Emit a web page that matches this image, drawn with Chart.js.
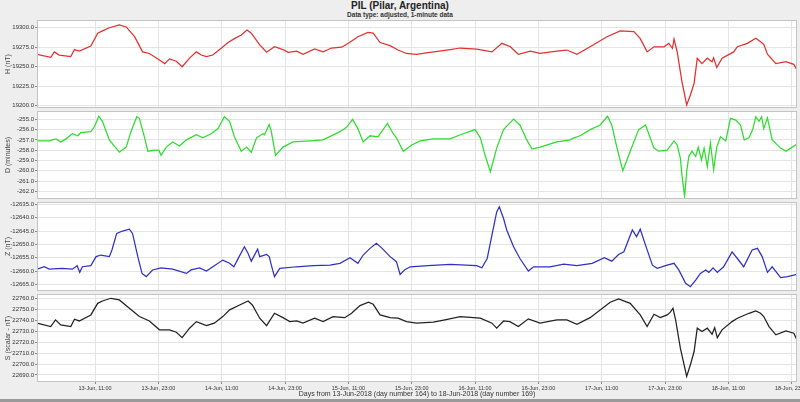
<!DOCTYPE html>
<html><head><meta charset="utf-8">
<script src="https://cdn.jsdelivr.net/npm/chart.js@4.4.1/dist/chart.umd.min.js"></script>
<style>
html,body{margin:0;padding:0;background:#eeeeee;width:800px;height:402px;overflow:hidden;font-family:"Liberation Sans",Arial,sans-serif;}
#title{position:absolute;left:0;width:800px;top:0;text-align:center;font-weight:bold;font-size:10px;line-height:11px;color:#222;}
#sub{position:absolute;left:0;width:800px;top:10px;text-align:center;font-weight:bold;font-size:6.5px;line-height:9px;color:#333;}
canvas{position:absolute;left:0;}
#foot{position:absolute;left:0;top:399px;width:800px;height:3px;background:#9a9a9a;}
</style></head>
<body>
<div id="title">PIL (Pilar, Argentina)</div>
<div id="sub">Data type: adjusted, 1-minute data</div>
<canvas id="c1" width="800" height="88" style="top:20px;width:800px;height:88px"></canvas>
<canvas id="c2" width="800" height="88" style="top:111px;width:800px;height:88px"></canvas>
<canvas id="c3" width="800" height="89" style="top:202px;width:800px;height:89px"></canvas>
<canvas id="c4" width="800" height="105" style="top:294px;width:800px;height:105px"></canvas>
<div id="foot"></div>
<script>
// ---- data (hours since 13-Jun-2018 00:00) ----
const hHours = [0,2.6,3.3,4.2,6.4,7.1,8,10.2,11.5,12.4,13.7,15.6,16.9,18.5,20,21.3,23.2,24.2,25.1,26.4,27.5,28.9,30.2,31.1,32.1,33.3,34.9,36.2,37.4,38.7,39.8,40.6,42.2,43.5,45,46.6,47.6,49.2,50.4,52.6,54.2,55.8,57.7,59,60.8,62.7,63.7,65,66.9,68.4,70,71.9,74.1,78.3,80.2,83.3,86.2,88.1,89.7,91.2,93.5,95.3,98.5,100.4,102.3,104.8,108,110.5,113.1,114.3,115.6,116.9,118.8,119.7,120.4,120.7,121.3,122.2,123.1,123.8,124.5,125.1,126,127,127.9,128.2,128.8,129.8,132,132.7,134.6,136.2,137.1,137.7,138.4,140,141.9,143.4,144];
const hValues = [19266,19262,19269,19265,19263,19272,19270,19276.5,19293,19296,19300,19303.5,19301,19288.5,19269,19267,19258.6,19254,19260,19257,19250,19261,19269,19265,19263,19265,19273.6,19281,19286,19290.6,19297,19293,19278,19268.5,19275.6,19272,19268.5,19270,19266,19272.7,19269,19274,19275,19280,19288.5,19294,19293,19281,19277,19271.4,19267,19266,19268,19272,19274,19272.7,19269,19280,19275.6,19266,19270,19267,19270,19271.4,19266,19275.6,19288.5,19296,19295,19286,19269,19275.6,19275.6,19280,19273.6,19285.5,19269,19230.8,19201,19213.7,19228.7,19260.8,19254,19261,19256.4,19261.5,19249,19261,19269,19275.6,19280,19286.4,19282,19278.7,19266,19254,19256.4,19253,19246];

const dHours = [0,2.3,3.6,4.5,5.5,6.7,7.7,8.3,10.2,10.9,11.7,12.4,13.7,15.6,16.9,17.8,18.9,19.4,20.4,21,22.3,23.1,23.5,24.5,25.7,27,28.3,30.2,31.4,33,34.3,35.5,36.5,37.4,38.7,39.7,40.6,41.6,42.8,43.1,44,44.4,45.2,46.6,48.5,51.7,54.2,57.4,58.6,59.8,60.8,61.8,63.1,64.6,66.4,67.5,68.1,69.4,71,72.6,75.1,78.3,80.2,83,84,84.9,85.9,87.1,88.4,90.3,91.5,92.8,93.8,95.3,98.5,101,101.7,102.9,104.8,106.7,108.1,108.9,109.9,111,112.4,114,115.3,116.9,117.8,119.4,120.7,121.3,121.9,122.2,122.7,123.1,123.5,124.1,124.8,125.3,125.9,126.4,127,127.6,128.2,128.8,129.5,130.5,131.4,132.4,133.3,134,134.9,135.6,136.2,136.8,137.3,137.7,138.4,139.3,140.9,141.9,142.8,144];
const dValues = [-257.1,-257.1,-256.9,-257.2,-256.9,-256.4,-256.6,-256.3,-256.2,-255.7,-254.7,-255.2,-257.0,-258.2,-257.7,-256.2,-254.75,-254.9,-256.8,-258.1,-258.0,-258.0,-258.5,-257.7,-257.2,-257.6,-257.0,-256.5,-256.8,-256.4,-255.9,-254.75,-255.2,-256.7,-258.1,-257.7,-258.2,-256.8,-256.4,-256.5,-255.5,-256.2,-258.5,-257.7,-257.2,-257.1,-257.0,-256.2,-255.8,-255.0,-255.9,-257.2,-256.6,-256.7,-255.4,-256.4,-256.8,-258.1,-257.5,-257.1,-256.9,-256.9,-256.5,-256.0,-256.8,-258.5,-260.1,-257.8,-256.0,-254.97,-255.55,-257.0,-257.9,-257.7,-257.2,-257.0,-256.8,-256.6,-256.0,-255.55,-254.7,-255.55,-257.8,-260.0,-258.1,-256.0,-255.55,-257.8,-258.1,-258.0,-257.1,-257.5,-258.8,-260.4,-262.5,-260.1,-258.6,-258.1,-258.6,-257.7,-258.95,-257.8,-259.6,-257.3,-259.9,-257.7,-256.7,-257.1,-254.9,-255.07,-255.55,-257.0,-256.8,-256.0,-254.75,-255.2,-254.75,-255.9,-254.85,-257.0,-257.8,-258.1,-257.8,-257.4];

const zHours = [0,1.4,2.3,4.8,6.7,7.6,8.1,8.6,10.2,11.2,12.1,13.7,14.2,15.1,16.2,17.5,18.1,19.1,19.9,20.7,21.9,23.5,25.7,28.3,29.2,30.8,32.1,33.6,35.2,36.5,37.3,38.3,39.3,40,40.6,41.8,42.2,43.5,44,44.4,45,46,49.2,52.3,55.5,57.4,59.3,60.8,61.8,63.1,64.3,65.3,66.9,68.1,68.8,69.7,70.7,74.1,78.3,83.3,84.3,85.3,86.2,87.1,87.6,88.4,89,90.3,91.5,93.1,94.1,97.2,99.8,102.3,105.2,107.5,108.9,110.2,111.2,112.8,113.6,114.3,115.3,116.6,117.5,119.4,120.7,121.6,122.9,123.8,124.8,125.7,126.7,127.3,128.1,128.9,130.1,131.7,132.7,133.9,135.5,136.5,137.4,138.4,139.3,140.9,142.2,144];
const zValues = [-12659.3,-12658.4,-12659.3,-12659,-12659.3,-12658,-12660.5,-12658.4,-12658,-12654.6,-12654,-12654.6,-12652.1,-12645.9,-12645,-12644.3,-12645.9,-12654.6,-12660.9,-12662.1,-12659.6,-12658.8,-12659.3,-12660.9,-12659.6,-12658.8,-12660,-12658,-12655.9,-12657.1,-12658.4,-12654.6,-12650.9,-12653.4,-12656.3,-12651.8,-12654.6,-12653.8,-12654.6,-12657.8,-12662.1,-12659,-12658.4,-12658,-12657.8,-12657.1,-12655,-12657.1,-12654,-12651.5,-12649.6,-12651.3,-12654.6,-12656.5,-12661.3,-12659.5,-12658.4,-12658,-12657.5,-12658,-12658.8,-12655.3,-12646.5,-12637.8,-12635.9,-12640.3,-12644.6,-12650.9,-12655.3,-12660,-12658.4,-12658.4,-12657.4,-12658,-12657.1,-12655,-12656.3,-12653.8,-12652.8,-12644.6,-12647.1,-12644.3,-12650.3,-12657.8,-12659,-12657.8,-12657.1,-12659.6,-12664.6,-12665.9,-12663.4,-12660.9,-12659.6,-12660.5,-12658.8,-12660.5,-12658.4,-12652.8,-12655.3,-12658.4,-12652.1,-12651.5,-12654.6,-12660.5,-12658.4,-12662.5,-12662.1,-12661.3];

const sHours = [0,2.6,3.5,4.5,6.4,7.1,8,10.2,11.5,12.4,14,15.6,17.5,19.4,21.3,23.2,25.1,26.4,27.5,28.9,30.2,32.1,33.6,35.2,36.5,38.4,40,40.8,42.2,43.5,45,46.6,47.9,49.2,50.4,52.6,54.2,56.1,58.3,59.6,61.2,62.8,63.7,65,66.9,68.4,70,71.9,75.1,77.3,80.2,84,86.2,87.1,88.4,89.6,91.2,93.1,95.3,98.5,100.4,102.3,104.8,106.7,108.6,110.2,112.4,114.3,115.6,116.9,118.1,119.4,120,120.5,121,121.9,123.1,123.8,124.5,125.1,126,127,127.9,128.4,128.9,129.8,131.7,132.7,134.9,136.2,137.1,137.7,138.7,140,141.9,143.4,144];
const sValues = [22737.3,22734.2,22740.3,22735.7,22734.2,22740.9,22739.3,22744.8,22755.4,22757.5,22760,22758.5,22750.9,22743.3,22739.3,22731.2,22731.2,22729,22724.1,22732.7,22738.7,22735,22737.3,22743.3,22749.4,22753.9,22757.5,22753.9,22741.8,22735,22746.3,22742.3,22738.7,22739.3,22737.3,22741.8,22738.7,22743.3,22742.3,22746.3,22753.3,22756.4,22754.5,22744.8,22742.3,22741.8,22738.7,22737.3,22738.2,22740.3,22743.3,22741.8,22737.3,22732.7,22739.3,22738.7,22734.2,22741.2,22737.3,22740.3,22740.3,22736.3,22742.3,22749.4,22756.4,22759.4,22755.4,22744.8,22734.2,22745.4,22742.3,22744.8,22747.3,22750.9,22740.3,22714.5,22688.7,22699.3,22711.4,22732.7,22729.6,22732.7,22727.2,22733.2,22724.1,22731.2,22738.7,22741.8,22746.3,22748.4,22746.3,22743.3,22734.2,22726.6,22730.2,22728.1,22722];

const hTicks = [19200,19225,19250,19275,19300];
const dTicks = [-262,-261,-260,-259,-258,-257,-256,-255];
const zTicks = [-12665,-12660,-12655,-12650,-12645,-12640,-12635];
const sTicks = [22690,22700,22710,22720,22730,22740,22750,22760];
const xTickHours = [11,23,35,47,59,71,83,95,107,119,131,143];
const xTickLabels = ['13-Jun, 11:00','13-Jun, 23:00','14-Jun, 11:00','14-Jun, 23:00','15-Jun, 11:00','15-Jun, 23:00','16-Jun, 11:00','16-Jun, 23:00','17-Jun, 11:00','17-Jun, 23:00','18-Jun, 11:00','18-Jun, 23:00'];

// ---- drawing ----
const FONT = '"Liberation Sans", Arial, sans-serif';
const GRID = '#e4e4e4';
const frame = {
  id: 'frame',
  beforeDraw(chart) {
    const {ctx, chartArea: a} = chart;
    ctx.save(); ctx.fillStyle = '#ffffff';
    ctx.fillRect(a.left, a.top, a.right - a.left, a.bottom - a.top);
    ctx.restore();
  },
  afterDraw(chart) {
    const {ctx, chartArea: a} = chart;
    ctx.save(); ctx.strokeStyle = '#c4c4c4'; ctx.lineWidth = 1;
    ctx.strokeRect(a.left + 0.5, a.top + 0.5, a.right - a.left - 1, a.bottom - a.top - 1);
    ctx.restore();
  }
};

function makePanel(id, hours, values, color, yMin, yMax, yTicks, yTitle, bottom) {
  const pts = hours.map((h, i) => ({x: h, y: values[i]}));
  return new Chart(document.getElementById(id), {
    type: 'line',
    data: {datasets: [{data: pts, borderColor: color, borderWidth: 1.25, pointRadius: 0, tension: 0, fill: false}]},
    options: {
      responsive: false, animation: false, devicePixelRatio: 1,
      layout: {padding: {left: 0, right: 3, top: 0, bottom: 0}},
      plugins: {legend: {display: false}, tooltip: {enabled: false}},
      scales: {
        x: {
          type: 'linear', min: 0, max: 144,
          afterBuildTicks: s => { s.ticks = xTickHours.map(v => ({value: v})); },
          afterFit: s => { s.height = bottom ? 17 : 0; s.paddingLeft = 0; s.paddingRight = 0; },
          grid: {color: GRID, drawTicks: bottom, tickLength: 2, tickColor: '#888'},
          border: {display: false},
          ticks: {display: bottom, autoSkip: false, maxRotation: 0, padding: 1, color: '#333',
                  font: {family: FONT, size: 5.5},
                  callback: (v, i) => xTickLabels[i]},
          title: {display: bottom, text: 'Days from 13-Jun-2018 (day number 164) to 18-Jun-2018 (day number 169)',
                  color: '#333', font: {family: FONT, size: 7}, padding: {top: 0, bottom: 1}}
        },
        y: {
          min: yMin, max: yMax,
          afterBuildTicks: s => { s.ticks = yTicks.map(v => ({value: v})); },
          afterFit: s => { s.width = 37; s.paddingTop = 0; s.paddingBottom = 0; },
          grid: {color: GRID, tickLength: 2, tickColor: '#888'},
          border: {display: false},
          ticks: {padding: 1, color: '#333', font: {family: FONT, size: 6},
                  callback: v => Number(v).toFixed(1)},
          title: {display: true, text: yTitle, color: '#444', font: {family: FONT, size: 7}, padding: {top: 4, bottom: 0}}
        }
      }
    },
    plugins: [frame]
  });
}

makePanel('c1', hHours, hValues, '#e3302f', 19197.1, 19309.9, hTicks, 'H (nT)', false);
makePanel('c2', dHours, dValues, '#2ddd2d', -262.75, -254.19, dTicks, 'D (minutes)', false);
makePanel('c3', zHours, zValues, '#3030c8', -12667.5, -12634.1, zTicks, 'Z (nT)', false);
makePanel('c4', sHours, sValues, '#222222', 22683.6, 22763.9, sTicks, 'S (scalar - nT)', true);
</script>
</body></html>
